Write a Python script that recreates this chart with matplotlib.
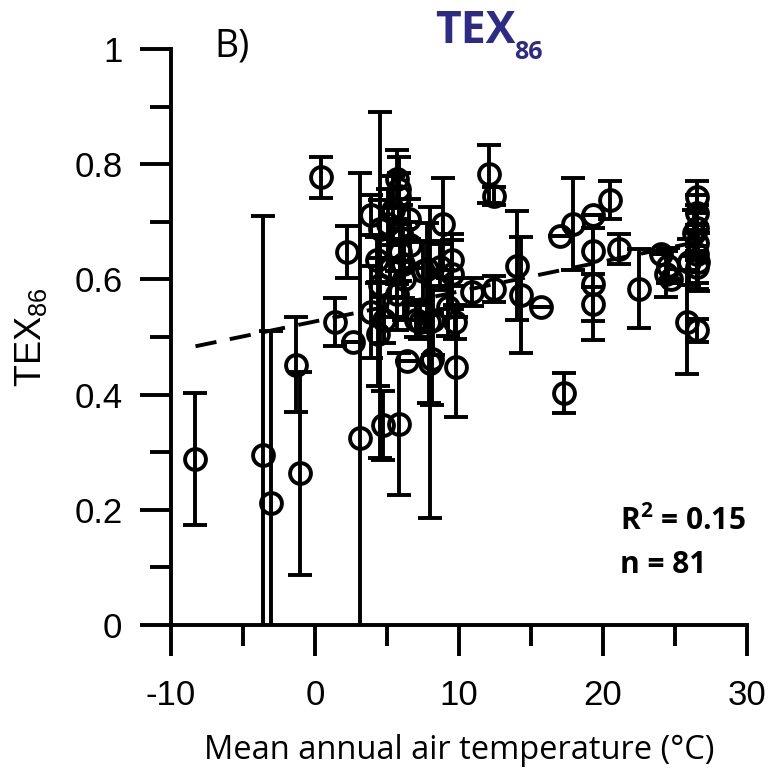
import matplotlib

matplotlib.use("Agg")
import matplotlib.pyplot as plt
import numpy as np

# Mean annual air temperature (degC), TEX86 value and its error (one entry per site)
mat = [
    -8.3, -3.6, -3.05, -1.3, -1.05, 0.45, 1.4, 2.2, 2.65, 3.1,
    3.9, 3.9, 4.4, 4.5, 4.3, 4.5, 4.75, 5.1, 5.7, 5.8,
    5.8, 5.8, 5.7, 5.7, 5.9, 6.1, 6.0, 6.5, 6.6, 6.4,
    7.3, 7.5, 7.8, 8.0, 7.9, 8.2, 8.1, 8.7, 8.9, 9.25,
    9.5, 9.5, 9.7, 9.8, 10.9, 12.05, 12.4, 12.4, 14.0, 14.3,
    15.7, 17.0, 17.3, 17.9, 19.3, 19.3, 19.3, 19.3, 20.5, 21.1,
    22.5, 24.0, 24.5, 24.4, 24.7, 26.5, 26.5, 26.5, 26.5, 26.5,
    26.5, 26.3, 26.6, 25.8, 26.5, 26.0, 5.4, 6.2, 5.2, 7.0,
    4.8,
]
tex86 = [
    0.288, 0.295, 0.211, 0.452, 0.263, 0.777, 0.526, 0.648, 0.491, 0.325,
    0.712, 0.543, 0.505, 0.590, 0.633, 0.687, 0.347, 0.697, 0.774, 0.757,
    0.745, 0.349, 0.552, 0.575, 0.647, 0.627, 0.680, 0.705, 0.660, 0.459,
    0.526, 0.615, 0.618, 0.455, 0.526, 0.529, 0.462, 0.621, 0.696, 0.552,
    0.633, 0.609, 0.526, 0.448, 0.578, 0.783, 0.745, 0.583, 0.624, 0.573,
    0.552, 0.675, 0.403, 0.696, 0.711, 0.650, 0.592, 0.557, 0.737, 0.653,
    0.584, 0.644, 0.624, 0.609, 0.600, 0.743, 0.716, 0.690, 0.664, 0.644,
    0.621, 0.680, 0.630, 0.526, 0.512, 0.630, 0.720, 0.600, 0.620, 0.530,
    0.530,
]
tex86_err = [
    0.115, 0.415, 0.300, 0.083, 0.176, 0.035, 0.041, 0.045, 0.0, 0.460,
    0.035, 0.080, 0.090, 0.300, 0.040, 0.050, 0.060, 0.060, 0.050, 0.055,
    0.040, 0.124, 0.040, 0.040, 0.050, 0.060, 0.050, 0.035, 0.040, 0.0,
    0.030, 0.050, 0.080, 0.270, 0.140, 0.060, 0.080, 0.040, 0.080, 0.050,
    0.045, 0.060, 0.030, 0.087, 0.025, 0.050, 0.015, 0.022, 0.095, 0.100,
    0.0, 0.0, 0.035, 0.080, 0.0, 0.040, 0.097, 0.030, 0.033, 0.026,
    0.068, 0.0, 0.030, 0.040, 0.0, 0.028, 0.030, 0.040, 0.030, 0.050,
    0.037, 0.040, 0.050, 0.090, 0.020, 0.040, 0.060, 0.070, 0.050, 0.030,
    0.040,
]

# linear fit
fit_intercept = 0.527
fit_slope = 0.0052
r_squared = 0.15

TITLE_COLOR = "#2E2B87"
LW = 2.8

plt.rcParams.update({
    "font.family": "Liberation Sans",
    "mathtext.fontset": "custom",
    "mathtext.rm": "Liberation Sans",
    "mathtext.bf": "Open Sans:bold",
    "axes.linewidth": LW,
    "axes.unicode_minus": False,
})

fig = plt.figure(figsize=(7.7, 7.69), dpi=100)
ax = fig.add_axes([0.2221, 0.1873, 0.748, 0.7490])

x = np.asarray(mat)
y = np.asarray(tex86)
err = np.asarray(tex86_err)

ax.errorbar(x, y, yerr=err, fmt="o", ms=15, mfc="none", mec="black", mew=LW,
            ecolor="black", elinewidth=LW, capsize=8.5, capthick=LW, zorder=3)

xfit = np.array([x.min(), x.max()])
ax.plot(xfit, fit_intercept + fit_slope * xfit, color="black", lw=LW,
        dashes=(5.5, 3.5), zorder=2)

ax.set_xlim(-10, 30)
ax.set_ylim(0, 1)
ax.set_xticks([-10, 0, 10, 20, 30])
ax.set_xticks([-5, 5, 15, 25], minor=True)
ax.set_yticks([0, 0.2, 0.4, 0.6, 0.8, 1.0], ["0", "0.2", "0.4", "0.6", "0.8", "1"])
ax.set_yticks([0.1, 0.3, 0.5, 0.7, 0.9], minor=True)
ax.spines["top"].set_visible(False)
ax.spines["right"].set_visible(False)
ax.tick_params(which="major", direction="out", length=22, width=LW, labelsize=25)
ax.tick_params(which="minor", direction="out", length=15, width=LW)
ax.tick_params(axis="x", which="major", pad=17)
ax.tick_params(axis="y", which="major", pad=13)

ax.set_xlabel("Mean annual air temperature (°C)", family="Open Sans", fontsize=23.5, labelpad=16)
ax.set_ylabel(r"TEX$_{\mathrm{86}}$", fontsize=26, labelpad=18)

fig.text(435 / 770, 1 - 43 / 769, "TEX", family="Open Sans",
         fontweight="bold", fontsize=32, color=TITLE_COLOR, ha="left", va="baseline")
fig.text(514 / 770, 1 - 59 / 769, "86", family="Open Sans",
         fontweight="bold", fontsize=18, color=TITLE_COLOR, ha="left", va="baseline")
fig.text(214 / 770, 1 - 57 / 769, "B)", family="Open Sans", fontsize=27,
         ha="left", va="baseline")

ax.text(0.78, 0.165, r"R$^{\mathbf{2}}$ = " + f"{r_squared:.2f}", transform=ax.transAxes,
        family="Open Sans", fontweight="bold", fontsize=21.5, ha="left", va="baseline")
ax.text(0.78, 0.09, f"n = {len(mat)}", transform=ax.transAxes,
        family="Open Sans", fontweight="bold", fontsize=21.5, ha="left", va="baseline")

fig.savefig("out.png", dpi=100)
